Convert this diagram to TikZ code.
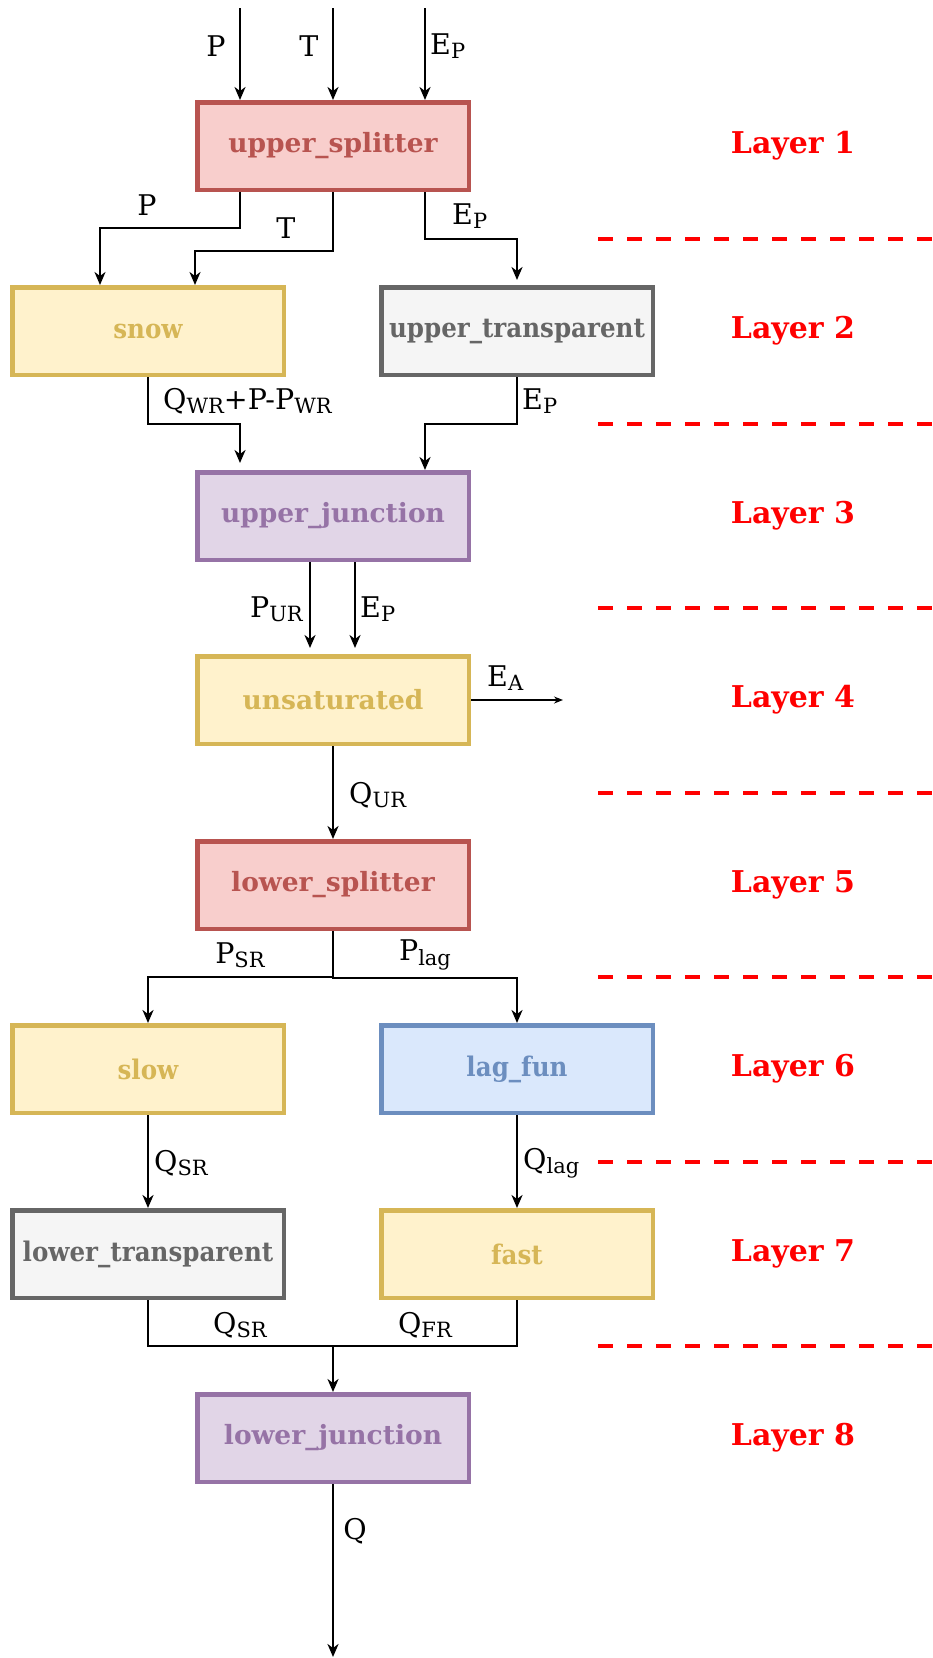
\documentclass[tikz,border=0pt]{standalone}
\usepackage{fontspec}
\setmainfont{DejaVu Serif}
\newfontfamily\condfont{DejaVu Serif}[FakeStretch=0.91]
\usetikzlibrary{arrows.meta}
\definecolor{redfill}{HTML}{F8CECC}\definecolor{redline}{HTML}{B85450}
\definecolor{yelfill}{HTML}{FFF2CC}\definecolor{yelline}{HTML}{D6B656}
\definecolor{grayfill}{HTML}{F5F5F5}\definecolor{grayline}{HTML}{666666}
\definecolor{purfill}{HTML}{E1D5E7}\definecolor{purline}{HTML}{9673A6}
\definecolor{blufill}{HTML}{DAE8FC}\definecolor{bluline}{HTML}{6C8EBF}
\newcommand\sbs[1]{\raisebox{-0.3ex}{\fontsize{21}{21}\selectfont #1}}
\tikzset{
 box/.style={draw, line width=4.5pt, minimum width=271.5pt, minimum height=87.5pt, inner sep=0pt, font=\fontsize{26.5}{28}\selectfont\bfseries},
 cbox/.style={box, font=\fontsize{27}{28}\selectfont\condfont\bfseries},
 redbox/.style={fill=redfill, draw=redline, text=redline},
 yelbox/.style={fill=yelfill, draw=yelline, text=yelline},
 grbox/.style={fill=grayfill, draw=grayline, text=grayline},
 purbox/.style={fill=purfill, draw=purline, text=purline},
 blubox/.style={fill=blufill, draw=bluline, text=bluline},
 flow/.style={line width=2.3pt, -{Stealth[length=13pt,width=11pt,inset=4pt]}},
 thinflow/.style={line width=1.4pt, -{Stealth[length=9pt,width=7pt,inset=3pt]}},
 lbl/.style={inner sep=0pt, font=\fontsize{28.5}{30}\selectfont},
 layer/.style={inner sep=0pt, text=red, font=\fontsize{30}{32}\selectfont\bfseries},
 sep/.style={draw=red, line width=4.5pt, dash pattern=on 15pt off 14pt},
}
\begin{document}
\begin{tikzpicture}[x=1pt,y=-1pt]
\useasboundingbox (0,0) rectangle (933,1658);
% boxes
\node[box,redbox] (us) at (333,146) {upper\_splitter};
\node[cbox,yelbox] (snow) at (148,331) {snow};
\node[cbox,grbox] (ut) at (517,331) {upper\_transparent};
\node[box,purbox] (uj) at (333,516) {upper\_junction};
\node[box,yelbox] (uns) at (333,700) {unsaturated};
\node[box,redbox] (ls) at (333,885) {lower\_splitter};
\node[cbox,yelbox] (slow) at (148,1069) {slow};
\node[cbox,blubox] (lag) at (517,1069) {lag\_fun};
\node[cbox,grbox] (lt) at (148,1254) {lower\_transparent};
\node[cbox,yelbox] (fast) at (517,1254) {fast};
\node[box,purbox] (lj) at (333,1438) {lower\_junction};
% layers
\foreach \i/\y in {1/146,2/331,3/516,4/700,5/885,6/1069,7/1254,8/1438}
  \node[layer] (L\i) at (793,\y) {Layer \i};
\foreach \i/\y in {1/239,2/424,3/608,4/793,5/977,6/1162,7/1346}{
  \coordinate (sa\i) at (598,\y); \coordinate (sb\i) at (933,\y);
  \draw[sep] (sa\i) -- (sb\i);}
% top inputs
\coordinate (inP) at (240,8); \coordinate (inT) at (333,8); \coordinate (inE) at (425,8);
\draw[flow] (inP) -- ([xshift=-93pt]us.north);
\draw[flow] (inT) -- (us.north);
\draw[flow] (inE) -- ([xshift=92pt]us.north);
\node[lbl] (lP0) at (216,46) {P};
\node[lbl] (lT0) at (309,46) {T};
\node[lbl,anchor=west] (lE0) at (430,46) {E\sbs{P}};
% upper splitter outputs
\draw[flow] ([xshift=-93pt]us.south) |- (100,228) -- ([xshift=-48pt]snow.north);
\draw[flow] (us.south) |- (195,251) -- ([xshift=47pt]snow.north);
\draw[flow] ([xshift=92pt]us.south) |- (517,239) -- ([yshift=5pt]ut.north);
\node[lbl] (lP1) at (147,205) {P};
\node[lbl] (lT1) at (286,228) {T};
\node[lbl,anchor=west] (lE1) at (452,216) {E\sbs{P}};
% layer 2 -> 3
\draw[flow] (snow.south) |- (240,424) -- ([xshift=-93pt,yshift=7pt]uj.north);
\draw[flow] (ut.south) |- (425,424) -- ([xshift=92pt]uj.north);
\node[lbl,anchor=west] (lQ2) at (163,401) {Q\sbs{WR}+P-P\sbs{WR}};
\node[lbl,anchor=west] (lE2) at (522,401) {E\sbs{P}};
% layer 3 -> 4
\draw[flow] ([xshift=-23pt]uj.south) -- ([xshift=-23pt,yshift=6pt]uns.north);
\draw[flow] ([xshift=22pt]uj.south) -- ([xshift=22pt,yshift=6pt]uns.north);
\node[lbl,anchor=east] (lP3) at (303,609) {P\sbs{UR}};
\node[lbl,anchor=west] (lE3) at (360,609) {E\sbs{P}};
% EA
\coordinate (ea) at (563,700);
\draw[thinflow] (uns.east) -- (ea);
\node[lbl,anchor=west] (lEA) at (487,678) {E\sbs{A}};
% layer 4 -> 5
\draw[flow] (uns.south) -- (ls.north);
\node[lbl,anchor=west] (lQ4) at (349,795) {Q\sbs{UR}};
% layer 5 -> 6
\draw[flow] (ls.south) |- (148,977) -- (slow.north);
\draw[flow] (ls.south) |- (517,978) -- (lag.north);
\node[lbl] (lPs) at (240,955) {P\sbs{SR}};
\node[lbl] (lPl) at (425,955) {P\sbs{lag}};
% layer 6 -> 7
\draw[flow] (slow.south) -- (lt.north);
\draw[flow] (lag.south) -- (fast.north);
\node[lbl,anchor=west] (lQs) at (154,1163) {Q\sbs{SR}};
\node[lbl,anchor=west] (lQl) at (523,1163) {Q\sbs{lag}};
% layer 7 -> 8
\draw[line width=2.3pt] (lt.south) |- (333,1346);
\draw[flow] (fast.south) |- (333,1346) -- (lj.north);
\node[lbl] (lQs2) at (240,1325) {Q\sbs{SR}};
\node[lbl] (lQf) at (425,1325) {Q\sbs{FR}};
% output
\coordinate (outQ) at (333,1657);
\draw[flow] (lj.south) -- (outQ);
\node[lbl] (lQ) at (355,1531) {Q};
\end{tikzpicture}
\end{document}
